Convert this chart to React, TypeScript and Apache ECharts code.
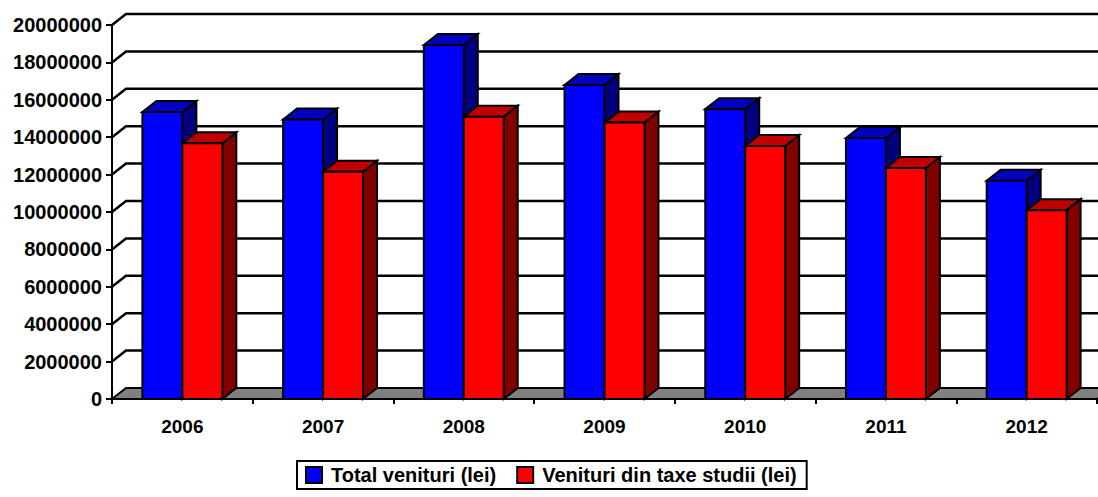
import React, { useEffect, useRef } from "react";
import * as echarts from "echarts";

const categories = ["2006", "2007", "2008", "2009", "2010", "2011", "2012"];
const totalVenituri = [15350000, 14950000, 18930000, 16790000, 15500000, 13960000, 11670000];
const venituriTaxe = [13670000, 12150000, 15100000, 14780000, 13530000, 12350000, 10100000];
const yTicks = [0, 2000000, 4000000, 6000000, 8000000, 10000000, 12000000, 14000000, 16000000, 18000000, 20000000];
const seriesNames = ["Total venituri (lei)", "Venituri din taxe studii (lei)"];

const DX = 14;
const DY = 11;
const FONT = "Arial, 'Liberation Sans', sans-serif";

function barRenderer(isFirst: boolean, front: string, top: string, side: string) {
  return (params: any, api: any) => {
    const idx = api.value(0);
    const val = api.value(1);
    const pTop = api.coord([idx, val]);
    const pBot = api.coord([idx, 0]);
    const band = api.size([1, 0])[0];
    const w = band * 0.284;
    const cx = pTop[0];
    const x1 = isFirst ? cx - w : cx;
    const x2 = x1 + w;
    const yT = pTop[1];
    const yB = pBot[1];
    const stroke = { stroke: "#000", lineWidth: 2, lineJoin: "miter" };
    return {
      type: "group",
      children: [
        {
          type: "polygon",
          shape: { points: [[x2, yT], [x2 + DX, yT - DY], [x2 + DX, yB - DY], [x2, yB]] },
          style: { fill: side, ...stroke },
        },
        {
          type: "polygon",
          shape: { points: [[x1, yT], [x1 + DX, yT - DY], [x2 + DX, yT - DY], [x2, yT]] },
          style: { fill: top, ...stroke },
        },
        {
          type: "rect",
          shape: { x: x1, y: yT, width: w, height: yB - yT },
          style: { fill: front, ...stroke },
        },
      ],
    };
  };
}

export default function App() {
  const ref = useRef<HTMLDivElement>(null);
  useEffect(() => {
    if (!ref.current) return;
    const chart = echarts.init(ref.current, undefined, { renderer: "svg" });
    const wallData = yTicks.map((v) => [0, v]);
    chart.setOption({
      animation: false,
      backgroundColor: "#fff",
      grid: { left: 112, right: 1, top: 25, bottom: 98, containLabel: false },
      legend: {
        left: 297,
        top: 461,
        orient: "horizontal",
        backgroundColor: "#fff",
        borderColor: "#000",
        borderWidth: 2,
        borderRadius: 0,
        padding: [4, 10, 4, 8],
        itemWidth: 16,
        itemHeight: 16,
        itemGap: 20,
        textStyle: { fontFamily: FONT, fontWeight: "bold", fontSize: 20, color: "#000", padding: [0, 0, 0, 4] },
        data: [
          { name: seriesNames[0], icon: "rect", itemStyle: { color: "#0000FF", borderColor: "#000", borderWidth: 2 } },
          { name: seriesNames[1], icon: "rect", itemStyle: { color: "#FF0000", borderColor: "#000", borderWidth: 2 } },
        ],
      },
      xAxis: {
        type: "category",
        data: categories,
        boundaryGap: true,
        axisLine: { show: true, lineStyle: { color: "#000", width: 2 } },
        axisTick: { show: true, length: 5, alignWithLabel: false, lineStyle: { color: "#000", width: 2 } },
        axisLabel: { margin: 18, fontFamily: FONT, fontWeight: "bold", fontSize: 19, color: "#000" },
        splitLine: { show: false },
        z: 10,
      },
      yAxis: {
        type: "value",
        min: 0,
        max: 20000000,
        interval: 2000000,
        axisLine: { show: true, lineStyle: { color: "#000", width: 2 } },
        axisTick: { show: true, length: 6, lineStyle: { color: "#000", width: 2 } },
        axisLabel: {
          margin: 10,
          fontFamily: FONT,
          fontWeight: "bold",
          fontSize: 20,
          color: "#000",
          formatter: (v: number) => String(v),
        },
        splitLine: { show: false },
        z: 10,
      },
      series: [
        {
          type: "custom",
          name: "walls",
          silent: true,
          z: 1,
          clip: false,
          encode: { x: 0, y: 1 },
          data: wallData,
          renderItem: (params: any, api: any) => {
            const cs = params.coordSys;
            const v = api.value(1);
            const y = api.coord([0, v])[1];
            const x0 = cs.x;
            const xR = cs.x + cs.width;
            const children: any[] = [];
            if (v === 0) {
              children.push({
                type: "polygon",
                shape: { points: [[x0, y], [x0 + DX, y - DY], [xR + DX, y - DY], [xR, y]] },
                style: { fill: "#808080", stroke: "#000", lineWidth: 2 },
              });
            } else {
              children.push({
                type: "polyline",
                shape: { points: [[x0, y], [x0 + DX, y - DY], [xR + DX, y - DY]] },
                style: { fill: null, stroke: "#000", lineWidth: 2.5 },
              });
            }
            return { type: "group", children };
          },
        },
        {
          type: "custom",
          name: seriesNames[0],
          z: 3,
          clip: false,
          itemStyle: { color: "#0000FF" },
          encode: { x: 0, y: 1 },
          data: totalVenituri.map((v, i) => [i, v]),
          renderItem: barRenderer(true, "#0000FF", "#0000C0", "#000080"),
        },
        {
          type: "custom",
          name: seriesNames[1],
          z: 4,
          clip: false,
          itemStyle: { color: "#FF0000" },
          encode: { x: 0, y: 1 },
          data: venituriTaxe.map((v, i) => [i, v]),
          renderItem: barRenderer(false, "#FF0000", "#C00000", "#800000"),
        },
      ],
    });
    return () => chart.dispose();
  }, []);
  return (
    <div
      ref={ref}
      style={{ position: "fixed", left: 0, top: 0, width: 1098, height: 497, background: "#fff" }}
    />
  );
}
